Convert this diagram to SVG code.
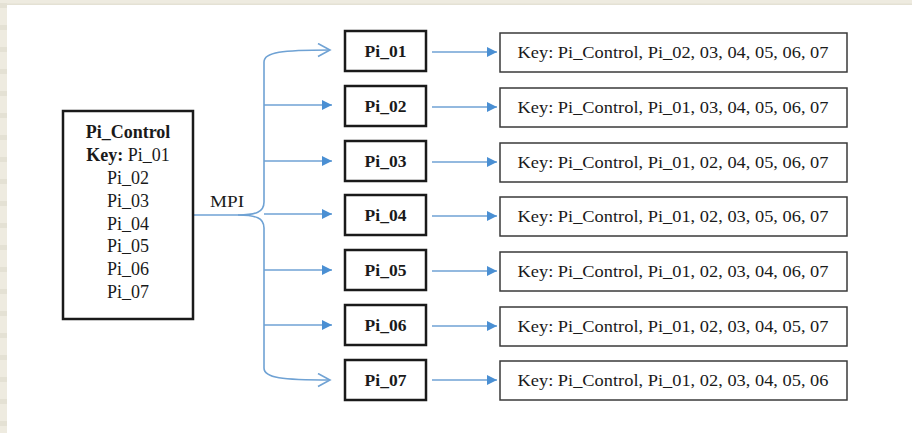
<svg xmlns="http://www.w3.org/2000/svg" width="912" height="433" viewBox="0 0 912 433">
<style>
.t{font-family:"Liberation Serif","Times New Roman","DejaVu Serif",serif;fill:#1a1a1a;}
.b{font-weight:bold;}
.pi{fill:#fff;stroke:#1a1a1a;stroke-width:2.5;}
.key{fill:#fff;stroke:#3a3a3a;stroke-width:1.5;}
.ln{fill:none;stroke:#6fa2d4;stroke-width:1.6;}
</style>
<defs>
<marker id="fa" markerUnits="userSpaceOnUse" markerWidth="11" markerHeight="11" refX="10" refY="5" orient="auto">
<path d="M0,0 L10,5 L0,10 z" fill="#4a8fd3"/>
</marker>
<marker id="oa" markerUnits="userSpaceOnUse" markerWidth="16" markerHeight="16" refX="13" refY="7" orient="auto">
<path d="M1,0.5 L13,7 L1,13.5" fill="none" stroke="#6fa2d4" stroke-width="1.6"/>
</marker>
<pattern id="stripes" x="0" y="3" width="8" height="22" patternUnits="userSpaceOnUse">
<rect width="8" height="22" fill="#eeebe0"/>
<rect width="8" height="5" fill="#e4e1d4"/>
</pattern>
</defs>
<rect width="912" height="433" fill="#ffffff"/>
<rect x="0" y="0" width="912" height="5" fill="#eeebe0"/>
<rect x="0" y="3.5" width="912" height="1.5" fill="#e4e1d4"/>
<rect x="0" y="0" width="7" height="433" fill="url(#stripes)"/>

<g id="connectors">
<path class="ln" d="M193,215 H238"/>
<path class="ln" d="M238,215 C256,215 264,212 264,202 V62 C264,52 282,50 330,50" marker-end="url(#oa)"/>
<path class="ln" d="M238,215 C256,215 264,218 264,228 V368 C264,378 282,380 330,380" marker-end="url(#oa)"/>
<path class="ln" d="M264,105 H332" marker-end="url(#fa)"/>
<path class="ln" d="M264,161 H332" marker-end="url(#fa)"/>
<path class="ln" d="M264,214 H332" marker-end="url(#fa)"/>
<path class="ln" d="M264,270 H332" marker-end="url(#fa)"/>
<path class="ln" d="M264,325 H332" marker-end="url(#fa)"/>
<path class="ln" d="M432,52 H497" marker-end="url(#fa)"/>
<path class="ln" d="M432,107 H497" marker-end="url(#fa)"/>
<path class="ln" d="M432,162 H497" marker-end="url(#fa)"/>
<path class="ln" d="M432,216 H497" marker-end="url(#fa)"/>
<path class="ln" d="M432,271 H497" marker-end="url(#fa)"/>
<path class="ln" d="M432,326 H497" marker-end="url(#fa)"/>
<path class="ln" d="M432,380 H497" marker-end="url(#fa)"/>
<text class="t" x="227" y="207" font-size="16" text-anchor="middle" textLength="34" lengthAdjust="spacingAndGlyphs">MPI</text>
</g>

<g id="pi_control">
<rect class="pi" x="63" y="111" width="130" height="208"/>
<text class="t b" x="128" y="138" font-size="18" text-anchor="middle">Pi_Control</text>
<text class="t" x="128" y="161" font-size="18" text-anchor="middle"><tspan class="b">Key:</tspan> Pi_01</text>
<text class="t" x="128" y="184" font-size="18" text-anchor="middle">Pi_02</text>
<text class="t" x="128" y="206.5" font-size="18" text-anchor="middle">Pi_03</text>
<text class="t" x="128" y="229.5" font-size="18" text-anchor="middle">Pi_04</text>
<text class="t" x="128" y="252" font-size="18" text-anchor="middle">Pi_05</text>
<text class="t" x="128" y="275" font-size="18" text-anchor="middle">Pi_06</text>
<text class="t" x="128" y="298" font-size="18" text-anchor="middle">Pi_07</text>
</g>

<g id="pi_01"><rect class="pi" x="345" y="31" width="81" height="40"/><text class="t b" x="385.5" y="57" font-size="17.5" text-anchor="middle">Pi_01</text></g>
<g id="pi_02"><rect class="pi" x="345" y="86" width="81" height="40"/><text class="t b" x="385.5" y="112" font-size="17.5" text-anchor="middle">Pi_02</text></g>
<g id="pi_03"><rect class="pi" x="345" y="141" width="81" height="40"/><text class="t b" x="385.5" y="167" font-size="17.5" text-anchor="middle">Pi_03</text></g>
<g id="pi_04"><rect class="pi" x="345" y="195" width="81" height="40"/><text class="t b" x="385.5" y="221" font-size="17.5" text-anchor="middle">Pi_04</text></g>
<g id="pi_05"><rect class="pi" x="345" y="250" width="81" height="40"/><text class="t b" x="385.5" y="276" font-size="17.5" text-anchor="middle">Pi_05</text></g>
<g id="pi_06"><rect class="pi" x="345" y="305" width="81" height="40"/><text class="t b" x="385.5" y="331" font-size="17.5" text-anchor="middle">Pi_06</text></g>
<g id="pi_07"><rect class="pi" x="345" y="360" width="81" height="40"/><text class="t b" x="385.5" y="386" font-size="17.5" text-anchor="middle">Pi_07</text></g>

<g id="key_01"><rect class="key" x="500" y="33" width="347" height="39"/><text class="t" x="673" y="58" font-size="17" text-anchor="middle" textLength="311" lengthAdjust="spacingAndGlyphs">Key: Pi_Control, Pi_02, 03, 04, 05, 06, 07</text></g>
<g id="key_02"><rect class="key" x="500" y="88" width="347" height="39"/><text class="t" x="673" y="113" font-size="17" text-anchor="middle" textLength="311" lengthAdjust="spacingAndGlyphs">Key: Pi_Control, Pi_01, 03, 04, 05, 06, 07</text></g>
<g id="key_03"><rect class="key" x="500" y="143" width="347" height="39"/><text class="t" x="673" y="168" font-size="17" text-anchor="middle" textLength="311" lengthAdjust="spacingAndGlyphs">Key: Pi_Control, Pi_01, 02, 04, 05, 06, 07</text></g>
<g id="key_04"><rect class="key" x="500" y="197" width="347" height="39"/><text class="t" x="673" y="222" font-size="17" text-anchor="middle" textLength="311" lengthAdjust="spacingAndGlyphs">Key: Pi_Control, Pi_01, 02, 03, 05, 06, 07</text></g>
<g id="key_05"><rect class="key" x="500" y="252" width="347" height="39"/><text class="t" x="673" y="277" font-size="17" text-anchor="middle" textLength="311" lengthAdjust="spacingAndGlyphs">Key: Pi_Control, Pi_01, 02, 03, 04, 06, 07</text></g>
<g id="key_06"><rect class="key" x="500" y="307" width="347" height="39"/><text class="t" x="673" y="332" font-size="17" text-anchor="middle" textLength="311" lengthAdjust="spacingAndGlyphs">Key: Pi_Control, Pi_01, 02, 03, 04, 05, 07</text></g>
<g id="key_07"><rect class="key" x="500" y="361" width="347" height="39"/><text class="t" x="673" y="386" font-size="17" text-anchor="middle" textLength="311" lengthAdjust="spacingAndGlyphs">Key: Pi_Control, Pi_01, 02, 03, 04, 05, 06</text></g>
</svg>
